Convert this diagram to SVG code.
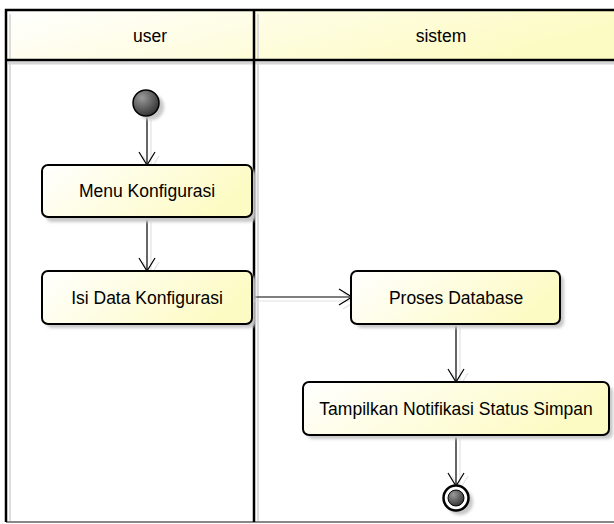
<svg xmlns="http://www.w3.org/2000/svg" width="614" height="524" viewBox="0 0 614 524">
  <defs>
    <linearGradient id="fillYellow" x1="0" y1="0" x2="1" y2="0.3">
      <stop offset="0" stop-color="#ffffff"/>
      <stop offset="1" stop-color="#fdfbc4"/>
    </linearGradient>
    <radialGradient id="dotFill" cx="0.35" cy="0.3" r="0.8">
      <stop offset="0" stop-color="#9a9a9a"/>
      <stop offset="1" stop-color="#2a2a2a"/>
    </radialGradient>
    <filter id="shadow" x="-20%" y="-20%" width="150%" height="160%">
      <feGaussianBlur stdDeviation="1.5"/>
    </filter>
    <marker id="openArrow" markerWidth="16" markerHeight="18" refX="14" refY="9" orient="auto" markerUnits="userSpaceOnUse">
      <path d="M1,1 L14,9 L1,17" fill="none" stroke="#000" stroke-width="1.2"/>
    </marker>
    <marker id="shadowArrow" markerWidth="16" markerHeight="18" refX="14" refY="9" orient="auto" markerUnits="userSpaceOnUse">
      <path d="M1,1 L14,9 L1,17" fill="none" stroke="#e2e2e2" stroke-width="1.2"/>
    </marker>
  </defs>
  <style>
    .lbl { font-family: "Liberation Sans", Arial, sans-serif; font-size: 17.5px; fill: #000; text-anchor: middle; }
    .act { fill: url(#fillYellow); stroke: #000; stroke-width: 2; }
    .shd { fill: #c8c8c8; filter: url(#shadow); }
    .edge { fill: none; stroke: #000; stroke-width: 1.2; marker-end: url(#openArrow); }
    .edgeShadow { fill: none; stroke: #e2e2e2; stroke-width: 1.2; marker-end: url(#shadowArrow); }
    .frame { fill: none; stroke: #000; stroke-width: 2.5; }
  </style>

  <rect width="614" height="524" fill="#ffffff"/>

  <!-- swimlanes -->
  <g id="lanes">
    <rect x="6" y="10" width="608" height="50" fill="url(#fillYellow)"/>
    <!-- faint inner shadows -->
    <line x1="10" y1="14" x2="10" y2="522" stroke="#dddddd" stroke-width="2"/>
    <line x1="258" y1="14" x2="258" y2="522" stroke="#dddddd" stroke-width="2"/>
    <line x1="8" y1="63" x2="614" y2="63" stroke="#d5d5d5" stroke-width="3"/>
    <line x1="6" y1="522" x2="614" y2="522" stroke="#888888" stroke-width="2"/>
    <path class="frame" d="M614,10 H6 V522"/>
    <line class="frame" x1="254" y1="10" x2="254" y2="522"/>
    <line class="frame" x1="6" y1="60" x2="614" y2="60"/>
    <text class="lbl" x="150" y="42">user</text>
    <text class="lbl" x="441" y="42">sistem</text>
  </g>

  <!-- connectors -->
  <g id="connectors">
    <line class="edgeShadow" x1="151" y1="120" x2="151" y2="169"/>
    <line class="edge" x1="147" y1="117" x2="147" y2="165"/>
    <line class="edgeShadow" x1="151" y1="222" x2="151" y2="275"/>
    <line class="edge" x1="147" y1="218" x2="147" y2="271"/>
    <line class="edgeShadow" x1="253" y1="301" x2="356" y2="301"/>
    <line class="edge" x1="252" y1="297" x2="352" y2="297"/>
    <line class="edgeShadow" x1="460" y1="328" x2="460" y2="386"/>
    <line class="edge" x1="456" y1="324" x2="456" y2="382"/>
    <line class="edgeShadow" x1="460" y1="439" x2="460" y2="489"/>
    <line class="edge" x1="456" y1="435" x2="456" y2="486"/>
  </g>

  <!-- initial node -->
  <g id="start">
    <circle class="shd" cx="151" cy="107" r="13"/>
    <circle cx="146" cy="103" r="13" fill="url(#dotFill)" stroke="#000" stroke-width="1.5"/>
  </g>

  <g id="menuKonfigurasi">
    <rect class="shd" x="46" y="169" width="210" height="53" rx="6"/>
    <rect class="act" x="42" y="165" width="210" height="52" rx="6"/>
    <text class="lbl" x="147" y="197">Menu Konfigurasi</text>
  </g>

  <g id="isiDataKonfigurasi">
    <rect class="shd" x="46" y="275" width="210" height="53" rx="6"/>
    <rect class="act" x="42" y="271" width="210" height="53" rx="6"/>
    <text class="lbl" x="147" y="304">Isi Data Konfigurasi</text>
  </g>

  <g id="prosesDatabase">
    <rect class="shd" x="356" y="275" width="208" height="53" rx="6"/>
    <rect class="act" x="351" y="271" width="209" height="53" rx="6"/>
    <text class="lbl" x="456" y="304">Proses Database</text>
  </g>

  <g id="tampilkanNotifikasi">
    <rect class="shd" x="307" y="386" width="306" height="53" rx="6"/>
    <rect class="act" x="303" y="382" width="306" height="53" rx="6"/>
    <text class="lbl" x="456" y="415">Tampilkan Notifikasi Status Simpan</text>
  </g>

  <!-- final node -->
  <g id="end">
    <circle class="shd" cx="460" cy="502" r="13"/>
    <circle cx="456" cy="498" r="12.5" fill="#ffffff" stroke="#000" stroke-width="2.5"/>
    <circle cx="456" cy="498" r="8" fill="url(#dotFill)" stroke="#000" stroke-width="1"/>
  </g>
</svg>
